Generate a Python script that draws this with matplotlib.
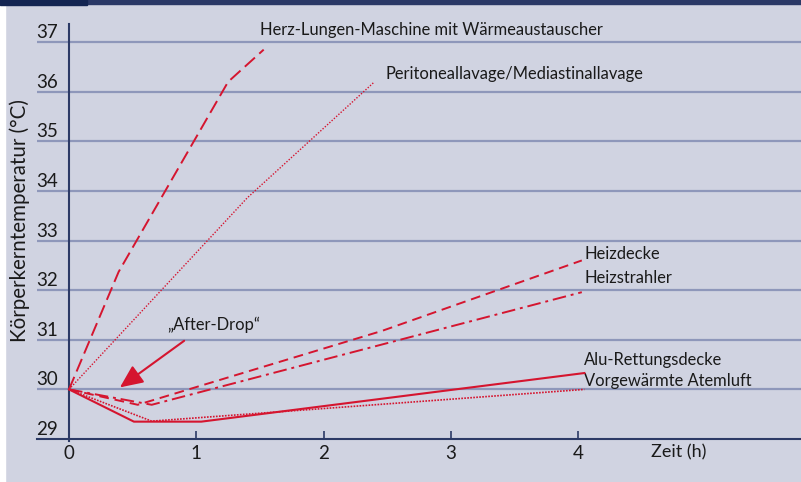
import matplotlib
matplotlib.use("Agg")
import matplotlib.pyplot as plt
from matplotlib.patches import FancyArrowPatch, Rectangle
import matplotlib.transforms as mtransforms

# ---- data ----
herz_x = [0, 0.39, 1.25, 1.53]
herz_y = [30.0, 32.37, 36.2, 36.85]
peri_x = [0, 1.40, 2.40]
peri_y = [30.0, 33.86, 36.2]
heizdecke_x = [0, 0.54, 2.46, 4.03]
heizdecke_y = [30.0, 29.69, 31.18, 32.6]
heizstrahler_x = [0, 0.65, 4.03]
heizstrahler_y = [30.0, 29.69, 31.96]
alu_x = [0, 0.51, 1.04, 4.05]
alu_y = [30.0, 29.35, 29.35, 30.33]
atem_x = [0, 0.65, 4.05]
atem_y = [30.0, 29.36, 30.0]

yticks = [29, 30, 31, 32, 33, 34, 35, 36, 37]
xticks = [0, 1, 2, 3, 4]

labels = {
    "herz": "Herz-Lungen-Maschine mit Wärmeaustauscher",
    "peri": "Peritoneallavage/Mediastinallavage",
    "heizdecke": "Heizdecke",
    "heizstrahler": "Heizstrahler",
    "alu": "Alu-Rettungsdecke",
    "atem": "Vorgewärmte Atemluft",
}
xlabel = "Zeit (h)"
ylabel = "Körperkerntemperatur (°C)"
afterdrop = "\u201eAfter-Drop\u201c"

# ---- style ----
BG = "#d0d3e1"
GRID = "#8e97ba"
AXC = "#2c3a66"
RED = "#d5152f"
TXT = "#1a1a1a"
FONT = ["Lato", "DejaVu Sans"]
plt.rcParams["font.family"] = FONT

W, H = 801, 482
fig = plt.figure(figsize=(W / 100, H / 100), dpi=100)
fig.patch.set_facecolor(BG)

# white left strip and dark top bar
fig.add_artist(Rectangle((0, 0), 5 / W, 1, transform=fig.transFigure, color="white", zorder=0))
fig.add_artist(Rectangle((0, 1 - 4 / H), 1, 4 / H, transform=fig.transFigure, color="#2a3866", zorder=5))
fig.add_artist(Rectangle((0, 1 - 5 / H), 87 / W, 5 / H, transform=fig.transFigure, color="#142552", zorder=6))

# axes geometry in pixels
ax_left, ax_right = 37, 801
ax_bottom, ax_top = 439, 24
x0_px, px_per_h = 69, 127.25
y0_px, px_per_deg = 439, 49.6

ax = fig.add_axes([ax_left / W, 1 - ax_bottom / H, (ax_right - ax_left) / W, (ax_bottom - ax_top) / H])
ax.set_facecolor("none")
ax.set_xlim(-(x0_px - ax_left) / px_per_h, (ax_right - x0_px) / px_per_h)
ax.set_ylim(29, 29 + (y0_px - ax_top) / px_per_deg)

for s in ["top", "right", "left"]:
    ax.spines[s].set_visible(False)
ax.spines["bottom"].set_color(AXC)
ax.spines["bottom"].set_linewidth(1.5)

# gridlines
for v in yticks[1:]:
    ax.axhline(v, color=GRID, lw=1.6, zorder=1)

# y axis line
ax.plot([0, 0], [28.96, ax.get_ylim()[1]], color=AXC, lw=1.5, clip_on=False, zorder=3)

# x ticks
ax.set_xticks(xticks)
ax.set_xticklabels([str(t) for t in xticks], fontsize=13.5, color=TXT)
ax.tick_params(axis="x", direction="in", length=6, width=1.2, color=AXC, pad=4)
ax.set_yticks([])

# y tick labels (above gridlines)
ytrans = mtransforms.blended_transform_factory(ax.transAxes, ax.transData)
off = mtransforms.ScaledTranslation(0, 4 / 100, fig.dpi_scale_trans)
for v in yticks:
    ax.text((58 - ax_left) / (ax_right - ax_left), v, str(v), transform=ytrans + off,
            ha="right", va="baseline", fontsize=13.5, color=TXT)

# x label
ax.text(4.575, 28.73, xlabel, ha="left", va="center", fontsize=13, color=TXT, clip_on=False)
# y label
fig.text(20 / W, 1 - 221 / H, ylabel, rotation=90, ha="center", va="center", fontsize=14.8, color=TXT)

# series
ax.plot(herz_x, herz_y, color=RED, lw=1.4, dashes=(7, 3), zorder=4)
ax.plot(peri_x, peri_y, color=RED, lw=1.0, dashes=(1, 1.2), zorder=4)
ax.plot(heizdecke_x, heizdecke_y, color=RED, lw=1.4, dashes=(5, 3), zorder=4)
ax.plot(heizstrahler_x, heizstrahler_y, color=RED, lw=1.4, dashes=(7, 2.5, 1.5, 2.5), zorder=4)
ax.plot(alu_x, alu_y, color=RED, lw=1.5, zorder=4)
ax.plot(atem_x, atem_y, color=RED, lw=1.2, dashes=(1, 0.8), zorder=4)

# annotations
fs = 11.9
ax.text(1.5, 37.24, labels["herz"], fontsize=fs, color=TXT, ha="left", va="center")
ax.text(2.49, 36.36, labels["peri"], fontsize=fs, color=TXT, ha="left", va="center")
ax.text(4.05, 32.72, labels["heizdecke"], fontsize=fs, color=TXT, ha="left", va="center")
ax.text(4.05, 32.24, labels["heizstrahler"], fontsize=fs, color=TXT, ha="left", va="center")
ax.text(4.05, 30.60, labels["alu"], fontsize=fs, color=TXT, ha="left", va="center")
ax.text(4.05, 30.16, labels["atem"], fontsize=fs, color=TXT, ha="left", va="center")
ax.text(1.14, 31.30, afterdrop, fontsize=fs, color=TXT, ha="center", va="center")

arrow = FancyArrowPatch((0.905, 30.98), (0.40, 30.04), arrowstyle="-|>,head_length=1.0,head_width=0.45",
                        mutation_scale=14, color=RED, lw=1.5, shrinkA=0, shrinkB=0, zorder=5)
ax.add_patch(arrow)

fig.savefig("out.png", dpi=100, facecolor=BG)
